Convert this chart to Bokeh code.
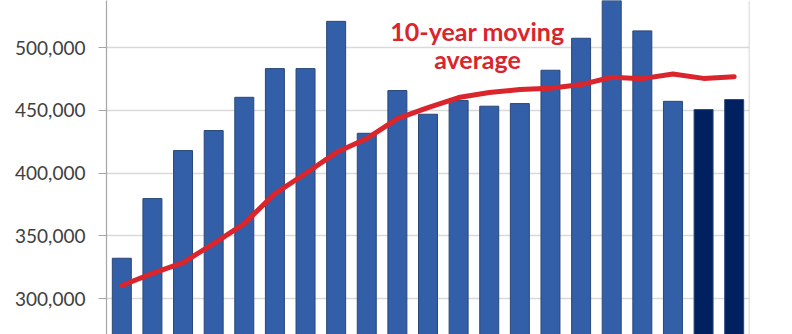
from bokeh.plotting import figure
from bokeh.models import ColumnDataSource, Range1d, Span, NumeralTickFormatter, FixedTicker, Label
from bokeh.embed import file_html
from bokeh.resources import INLINE

# Data
positions = list(range(1, 22))
values = [332100, 379700, 418000, 434000, 460500, 483400, 483400, 521100, 431800,
          465900, 447000, 457900, 453400, 455500, 482100, 507600, 545000, 513500,
          457300, 450700, 458700]
moving_avg = [310400, 320000, 328700, 343800, 359800, 383700, 399700, 416400, 427600,
              443500, 452300, 460300, 464300, 466700, 467700, 470650, 476500, 475400,
              479100, 475600, 477000]
bar_colors = ["#335EA8"] * 19 + ["#002060"] * 2
y_ticks = [300000, 350000, 400000, 450000, 500000]
label_lines = ["10-year moving", "average"]

src = ColumnDataSource(dict(x=positions, top=values, color=bar_colors))
ma = ColumnDataSource(dict(x=positions, y=moving_avg))

p = figure(width=792, height=334, output_backend="svg", toolbar_location=None,
           x_range=Range1d(0.5, 21.5), y_range=Range1d(271280, 537740),
           min_border_left=106, min_border_right=43, min_border_top=0, min_border_bottom=0)
p.xaxis.visible = False
p.xgrid.visible = False
p.outline_line_color = None
p.background_fill_color = "white"

p.ygrid.grid_line_color = "#d9d9d9"
p.ygrid.grid_line_width = 1.5

ax = p.yaxis[0]
ax.ticker = FixedTicker(ticks=y_ticks)
ax.formatter = NumeralTickFormatter(format="0,0")
ax.axis_line_color = "#a6a6a6"
ax.axis_line_width = 1.2
ax.major_tick_line_color = "#a6a6a6"
ax.major_tick_line_width = 1.2
ax.major_tick_out = 8
ax.major_tick_in = 0
ax.minor_tick_line_color = None
ax.major_label_standoff = 13
ax.major_label_text_font = "Lato"
ax.major_label_text_font_size = "19px"
ax.major_label_text_color = "#404040"

p.vbar(x="x", top="top", bottom=200000, width=0.62, fill_color="color",
       line_color="#2a4778", line_width=1, source=src)

p.line(x="x", y="y", line_color="#D9252B", line_width=5, line_cap="round",
       line_join="round", source=ma)

p.add_layout(Span(location=21.5, dimension="height", line_color="#c8c8c8", line_width=1.5))

for txt, ybase in zip(label_lines, [304, 276]):
    p.add_layout(Label(x=371, y=ybase, x_units="screen", y_units="screen",
                       text=txt, text_font="Lato", text_font_style="bold",
                       text_font_size="25px", text_color="#D9252B", text_align="center",
                       text_baseline="alphabetic"))

open("out.html", "w").write(file_html(p, INLINE))
